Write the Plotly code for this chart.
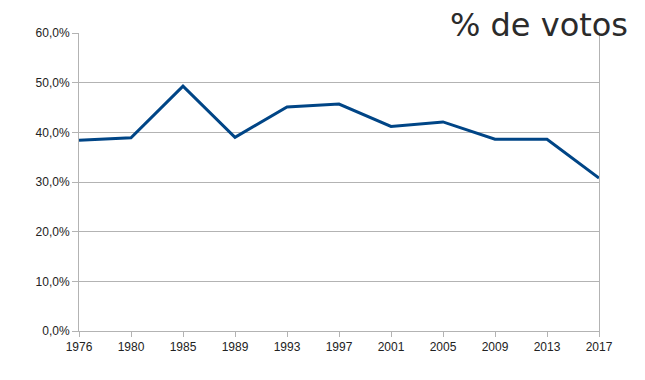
import plotly.graph_objects as go

years = ["1976", "1980", "1985", "1989", "1993", "1997", "2001", "2005", "2009", "2013", "2017"]
votos = [0.384, 0.389, 0.493, 0.390, 0.451, 0.457, 0.412, 0.421, 0.386, 0.386, 0.308]
title_text = "% de votos"

fig = go.Figure()
fig.add_trace(go.Scatter(
    x=years, y=votos, mode="lines",
    line=dict(color="#004586", width=3),
    showlegend=False, hoverinfo="skip",
))

W, H = 645, 380
axis_color = "#b3b3b3"
fig.update_layout(
    width=W, height=H,
    margin=dict(l=79, r=46, t=33, b=49),
    paper_bgcolor="white", plot_bgcolor="white",
    separators=",.",
    hovermode=False,
    title=dict(
        text=title_text,
        font=dict(family="DejaVu Sans", size=32, color="#2b2b2b"),
        xref="container", yref="container",
        x=628/W, xanchor="right",
        y=1 - 25/H, yanchor="middle",
    ),
    xaxis=dict(
        type="category", range=[0, 10],
        showgrid=False, showline=True, linecolor=axis_color, linewidth=1,
        ticks="outside", ticklen=5, tickcolor=axis_color,
        tickfont=dict(family="Liberation Sans", size=12, color="#222222"),
        zeroline=False,
    ),
    yaxis=dict(
        range=[0, 0.6], dtick=0.1, tickformat=".1%",
        showgrid=True, gridcolor=axis_color, gridwidth=1,
        showline=True, linecolor=axis_color, linewidth=1, mirror=True,
        ticks="outside", ticklen=6, tickcolor=axis_color,
        tickfont=dict(family="Liberation Sans", size=12, color="#222222"),
        zeroline=False,
    ),
)

fig.write_html(
    "out.html",
    config={"displayModeBar": False, "staticPlot": True},
    post_script="document.body.style.margin='0';",
)
